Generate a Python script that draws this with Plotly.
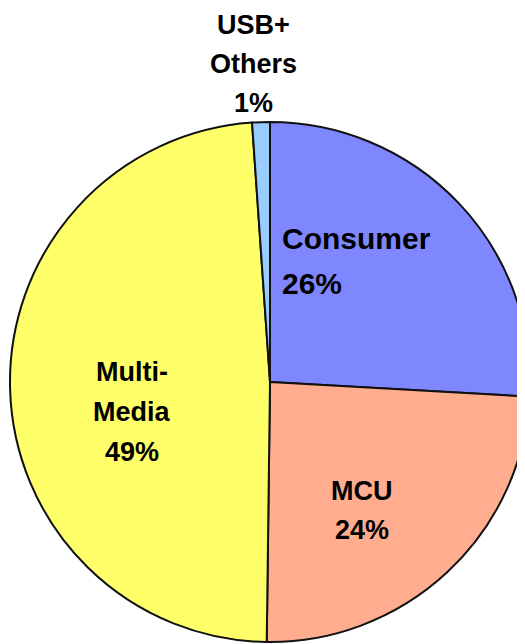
import plotly.graph_objects as go

# slices, clockwise from 12 o'clock
segments = ["Consumer", "MCU", "Multi-Media", "USB+ Others"]
shares = [25.9, 24.3, 48.7, 1.1]
slice_colors = ["#7f87ff", "#ffad8e", "#ffff6a", "#99ccff"]

# label lines drawn as text (last line is the percentage)
label_lines = {
    "Consumer": ["Consumer"],
    "MCU": ["MCU"],
    "Multi-Media": ["Multi-", "Media"],
    "USB+ Others": ["USB+", "Others"],
}

W, H = 545, 660
OFF = 8  # page body margin
FONT = "Liberation Sans, Arial, sans-serif"


def px(x):
    return (x - OFF) / W


def py(y):
    return 1 - (y - OFF) / H


fig = go.Figure()
fig.add_trace(go.Pie(
    labels=segments,
    values=shares,
    sort=False,
    direction="clockwise",
    rotation=0,
    marker=dict(colors=slice_colors, line=dict(color="#111111", width=2)),
    textinfo="none",
    hoverinfo="skip",
    showlegend=False,
    domain=dict(x=[px(10), px(530)], y=[py(642), py(122)]),
))

pct = {s: f"{round(v)}%" for s, v in zip(segments, shares)}

# (x, y of first line, line step, anchor, font size)
placement = {
    "USB+ Others": (253, 25, 39, "center", 27),
    "Consumer": (280, 239, 44, "left", 30),
    "Multi-Media": (132, 372, 40, "center", 27),
    "MCU": (362, 491, 39, "center", 27),
}

for seg in segments:
    x0, y0, step, anchor, size = placement[seg]
    lines = label_lines[seg] + [pct[seg]]
    for i, line in enumerate(lines):
        fig.add_annotation(
            x=px(x0), y=py(y0 + i * step), xref="paper", yref="paper",
            text=f"<b>{line}</b>", showarrow=False,
            xanchor=anchor, yanchor="middle",
            font=dict(size=size, family=FONT, color="black"),
        )

fig.update_layout(
    width=W,
    height=H,
    margin=dict(l=0, r=0, t=0, b=0),
    paper_bgcolor="white",
    plot_bgcolor="white",
    showlegend=False,
)

fig.write_html("out.html")
